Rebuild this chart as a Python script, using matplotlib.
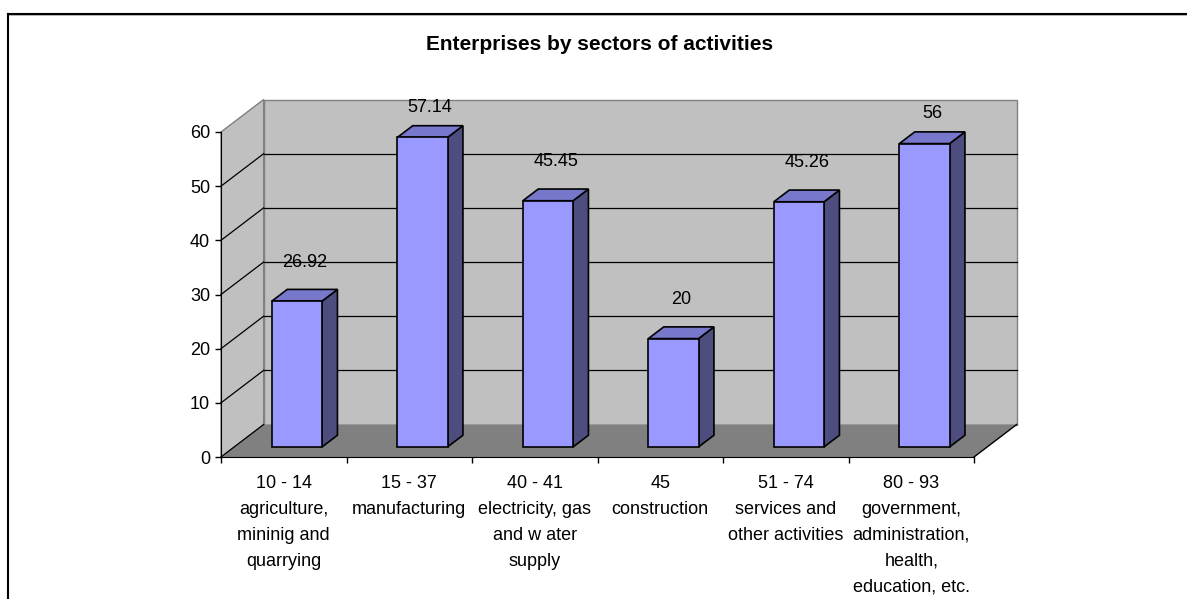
import matplotlib.pyplot as plt
from matplotlib.lines import Line2D

plt.rcParams["font.family"] = ["Liberation Sans", "DejaVu Sans"]

categories = [
    "10 - 14\nagriculture,\nmininig and\nquarrying",
    "15 - 37\nmanufacturing",
    "40 - 41\nelectricity, gas\nand w ater\nsupply",
    "45\nconstruction",
    "51 - 74\nservices and\nother activities",
    "80 - 93\ngovernment,\nadministration,\nhealth,\neducation, etc.",
]
values = [26.92, 57.14, 45.45, 20, 45.26, 56]
value_labels = ["26.92", "57.14", "45.45", "20", "45.26", "56"]
y_ticks = [0, 10, 20, 30, 40, 50, 60]

# depth of the 3d box, in category / value units
DX, DY = 0.34, 6.0
W = 0.40          # bar width
Z0, Z1 = 0.31, 0.67  # bar front / back depth fraction

FRONT = "#9999ff"
TOP = "#7777cc"
SIDE = "#4d4d80"
WALL = "#c0c0c0"
FLOOR = "#808080"
FS = 13


def proj(x, y, z):
    return x + z * DX, y + z * DY


def poly(pts):
    xs = [p[0] for p in pts]
    ys = [p[1] for p in pts]
    return xs, ys


fig = plt.figure(figsize=(11.87, 5.99), dpi=100)
ax = fig.add_axes([221 / 1187, (599 - 457) / 599, 753 / 1187, 325 / 599])
n = len(values)
ymax = y_ticks[-1]
ax.set_xlim(0, n)
ax.set_ylim(0, ymax)
ax.patch.set_visible(False)

# walls and floor
ax.fill(*poly([proj(0, 0, 1), proj(n, 0, 1), proj(n, ymax, 1), proj(0, ymax, 1)]),
        facecolor=WALL, edgecolor="#808080", lw=1, clip_on=False, zorder=1)
ax.fill(*poly([proj(0, 0, 0), proj(0, 0, 1), proj(0, ymax, 1), proj(0, ymax, 0)]),
        facecolor=WALL, edgecolor="#808080", lw=1, clip_on=False, zorder=1)
ax.fill(*poly([proj(0, 0, 0), proj(n, 0, 0), proj(n, 0, 1), proj(0, 0, 1)]),
        facecolor=FLOOR, edgecolor="none", clip_on=False, zorder=1)
ax.plot(*poly([proj(n, 0, 0), proj(n, 0, 1)]), color="black", lw=1,
        clip_on=False, zorder=2)

# gridlines on back and side walls
for v in y_ticks[1:-1]:
    ax.plot(*poly([proj(0, v, 1), proj(n, v, 1)]), color="black", lw=0.9,
            clip_on=False, zorder=2)
for v in y_ticks[:-1]:
    ax.plot(*poly([proj(0, v, 0), proj(0, v, 1)]), color="black", lw=0.9,
            clip_on=False, zorder=2)

# bars
for i, v in enumerate(values):
    xl = i + 0.5 - W / 2
    xr = i + 0.5 + W / 2
    front = [proj(xl, 0, Z0), proj(xr, 0, Z0), proj(xr, v, Z0), proj(xl, v, Z0)]
    top = [proj(xl, v, Z0), proj(xr, v, Z0), proj(xr, v, Z1), proj(xl, v, Z1)]
    side = [proj(xr, 0, Z0), proj(xr, 0, Z1), proj(xr, v, Z1), proj(xr, v, Z0)]
    for pts, c in [(side, SIDE), (top, TOP), (front, FRONT)]:
        ax.fill(*poly(pts), facecolor=c, edgecolor="black", lw=1.2,
                joinstyle="miter", clip_on=False, zorder=3)
    off = 6.1 if v < 50 else 4.5
    lx, ly = proj(i + 0.5, v + off, (Z0 + Z1) / 2)
    ax.text(lx, ly, value_labels[i], ha="center", va="center", fontsize=FS,
            clip_on=False, zorder=4)

# axes
for s in ["top", "right"]:
    ax.spines[s].set_visible(False)
ax.spines["left"].set_zorder(5)
ax.spines["bottom"].set_zorder(5)
ax.set_yticks(y_ticks)
ax.tick_params(axis="y", length=4.3, width=1, pad=3.5, labelsize=FS)
ax.set_xticks(range(n + 1))
ax.set_xticklabels([])
ax.tick_params(axis="x", which="major", length=4.5, width=1)
ax.set_xticks([i + 0.5 for i in range(n)], minor=True)
ax.set_xticklabels(categories, minor=True, fontsize=FS, linespacing=1.67,
                   va="top")
ax.tick_params(axis="x", which="minor", length=0, pad=13.3)

fig.text(600 / 1187, 1 - 45 / 599, "Enterprises by sectors of activities",
         ha="center", va="center", fontsize=15, fontweight="bold")

# chart frame, open on the right and bottom
fy = 1 - 13.5 / 599
fx = 7.5 / 1187
fig.add_artist(Line2D([fx, 1], [fy - 1.5 / 599, fy - 1.5 / 599], color="#b0b0b0", lw=1.2))
fig.add_artist(Line2D([fx, 1], [fy, fy], color="black", lw=1.5))
fig.add_artist(Line2D([fx, fx], [0, fy], color="black", lw=1.5))

fig.savefig("out.png", dpi=100)
